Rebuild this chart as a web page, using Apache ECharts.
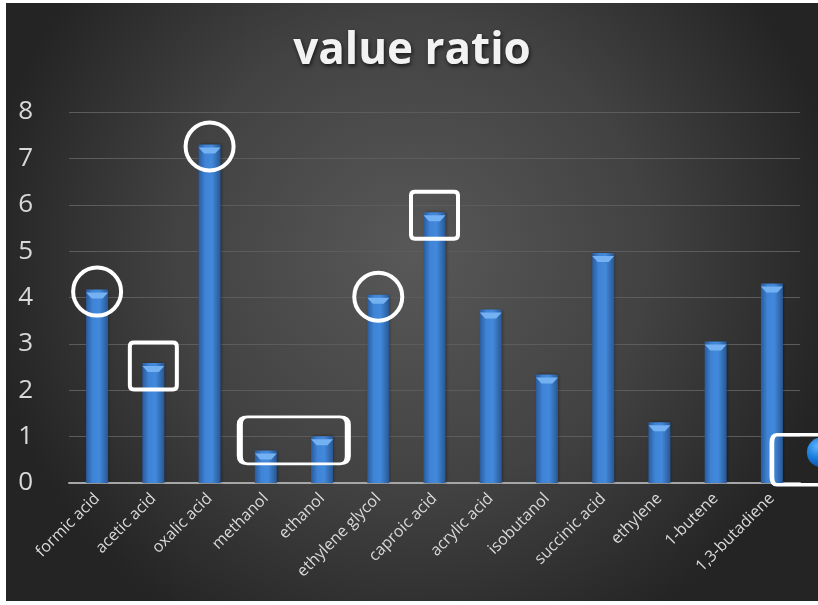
<!DOCTYPE html>
<html>
<head>
<meta charset="utf-8">
<script src="https://cdn.jsdelivr.net/npm/echarts@6/dist/echarts.min.js"></script>
<style>
  html, body { margin: 0; padding: 0; background: #ffffff; width: 818px; height: 605px; overflow: hidden; }
  #chart { position: absolute; left: 6px; top: 3px; width: 812px; height: 598px; }
</style>
</head>
<body>
<div id="chart"></div>
<script>
var titleText = 'value ratio';
var categories = ['formic acid', 'acetic acid', 'oxalic acid', 'methanol', 'ethanol', 'ethylene glycol', 'caproic acid', 'acrylic acid', 'isobutanol', 'succinic acid', 'ethylene', '1-butene', '1,3-butadiene'];
var values = [4.17, 2.59, 7.30, 0.70, 1.01, 4.06, 5.84, 3.74, 2.34, 4.96, 1.31, 3.05, 4.30];
var yTicks = [0, 1, 2, 3, 4, 5, 6, 7, 8];
var circled = ['formic acid', 'oxalic acid', 'ethylene glycol'];
var boxed = ['acetic acid', 'caproic acid'];

var chart = echarts.init(document.getElementById('chart'), null, { renderer: 'canvas' });

var idx = function (name) { return categories.indexOf(name); };
var ring = { color: 'rgba(0,0,0,0)', borderColor: '#ffffff', borderWidth: 4 };
var sqPath = 'path://M4,0 H44 Q48,0 48,4 V44 Q48,48 44,48 H4 Q0,48 0,44 V4 Q0,0 4,0 Z';
var widePath = 'path://M8,0 H102 Q110,0 110,8 V40 Q110,48 102,48 H8 Q0,48 0,40 V8 Q0,0 8,0 Z';

var markData = [];
circled.forEach(function (n) {
  markData.push({ coord: [n, values[idx(n)]], symbol: 'circle', symbolSize: 48, symbolOffset: [0, 2], itemStyle: ring });
});
boxed.forEach(function (n) {
  markData.push({ coord: [n, values[idx(n)]], symbol: sqPath, symbolSize: [47, 47], symbolOffset: [0, 3], itemStyle: ring });
});
markData.push({ coord: ['methanol', 0.92], symbol: widePath, symbolSize: [108, 47], symbolOffset: [28, 0], itemStyle: ring });
markData.push({ coord: ['1,3-butadiene', 0.5], symbol: widePath, symbolSize: [70, 50], symbolOffset: [35, 0], itemStyle: ring });
markData.push({ coord: ['1,3-butadiene', 0.66], symbol: 'circle', symbolSize: 30, symbolOffset: [50, 0],
  itemStyle: { color: { type: 'radial', x: 0.35, y: 0.3, r: 0.75, colorStops: [ { offset: 0, color: '#5fb3ff' }, { offset: 0.5, color: '#1c7fe0' }, { offset: 1, color: '#0b4f9e' } ] } } });

var option = {
  backgroundColor: {
    type: 'radial', x: 0.5, y: 0.42, r: 0.72,
    colorStops: [ { offset: 0, color: '#585858' }, { offset: 0.55, color: '#424242' }, { offset: 1, color: '#242424' } ]
  },
  animation: false,
  title: {
    text: titleText, left: 'center', top: 21,
    textStyle: { color: '#f2f2f2', fontSize: 44, fontWeight: 'bold', fontFamily: 'Open Sans',
      textShadowColor: 'rgba(0,0,0,0.7)', textShadowBlur: 4, textShadowOffsetX: 1, textShadowOffsetY: 2 }
  },
  grid: { left: 63, right: 18, top: 109, bottom: 118 },
  xAxis: {
    type: 'category', data: categories,
    axisLine: { lineStyle: { color: '#a6a6a6', width: 2 } },
    axisTick: { show: false },
    axisLabel: { color: '#d9d9d9', fontSize: 16, fontFamily: 'Open Sans', rotate: 45, margin: 13, interval: 0 }
  },
  yAxis: {
    type: 'value', min: yTicks[0], max: yTicks[yTicks.length - 1], interval: 1,
    axisLine: { show: false }, axisTick: { show: false },
    axisLabel: { color: '#d9d9d9', fontSize: 26, fontFamily: 'Open Sans', margin: 36 },
    splitLine: { lineStyle: { color: '#5c5c5c', width: 1 } }
  },
  series: [
    {
      type: 'bar', data: values, barWidth: 22, barGap: '-100%',
      itemStyle: {
        color: { type: 'linear', x: 0, y: 0, x2: 1, y2: 0,
          colorStops: [ { offset: 0, color: '#2a5b9c' }, { offset: 0.3, color: '#3f84d6' }, { offset: 0.6, color: '#4289dc' }, { offset: 1, color: '#285793' } ] },
        shadowColor: 'rgba(0,0,0,0.4)', shadowBlur: 3, shadowOffsetX: 1
      },
      markPoint: { data: markData, label: { show: false }, silent: true }
    },
    {
      type: 'pictorialBar', data: values, barWidth: 22, barGap: '-100%',
      symbol: 'path://M0,0 H20 L15,5 H5 Z', symbolSize: [22, 6], symbolPosition: 'end', symbolOffset: [0, '50%'],
      itemStyle: { color: '#74b1f2' }, z: 3, silent: true
    }
  ]
};
chart.setOption(option);
</script>
</body>
</html>
